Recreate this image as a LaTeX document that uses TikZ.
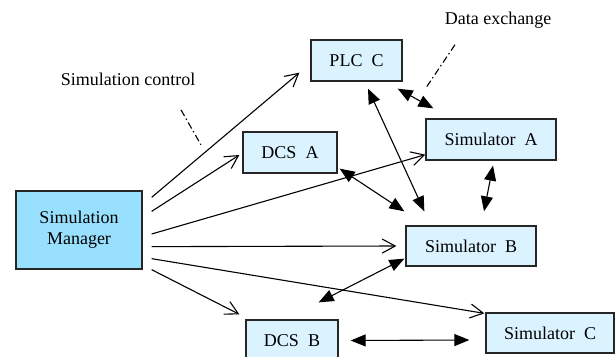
\documentclass[tikz,border=0pt]{standalone}
\usepackage{fontspec}
\setmainfont{Liberation Serif}
\newfontfamily\timesfont{Liberation Serif}
\usetikzlibrary{arrows.meta,positioning}
\definecolor{boxfill}{RGB}{219,242,255}
\definecolor{mgrfill}{RGB}{153,224,255}
\tikzset{
    every node/.append style={font=\timesfont\fontsize{18}{21}\selectfont},
    box/.style={draw=black!85, line width=1.3pt, fill=boxfill, inner sep=0pt, minimum height=41pt},
    mgr/.style={box, fill=mgrfill, minimum width=126pt, minimum height=78pt, align=center},
    ctrl/.style={line width=1.1pt, -{Straight Barb[length=13pt,width=14pt,line width=1.1pt]}},
    xchg/.style={line width=1.1pt, {Triangle[length=15pt,width=12pt]}-{Triangle[length=15pt,width=12pt]}},
    hint/.style={line width=1.1pt, dash pattern=on 7pt off 3pt on 1.5pt off 3pt}}

\begin{document}
\begin{tikzpicture}[x=1pt,y=-1pt]
    \useasboundingbox (0,0) rectangle (615,356);
    \clip (0,0) rectangle (615,356);
    \node[mgr] (sm) at (79,230) {Simulation\\Manager};
    \node[box, minimum width=94pt] (dcsa) at (290,152.5) {DCS\ \ A};
    \node[box, minimum width=91pt] (plcc) at (356.5,60.5) {PLC\ \ C};
    \node[box, minimum width=130pt] (sima) at (491,139.5) {Simulator\ \ A};
    \node[box, minimum width=130pt, minimum height=40pt] (simb) at (471,246) {Simulator\ \ B};
    \node[box, minimum width=128pt, minimum height=40pt] (simc) at (550,333) {Simulator\ \ C};
    \node[box, minimum width=92pt] (dcsb) at (292,340.5) {DCS\ \ B};
    \node (ctrllabel) at (128,79) {Simulation control};
    \node (datalabel) at (498,20) {Data exchange};

    % simulation control
    \path[ctrl]
    ([shift={(9,7)}]sm.north east) edge ([shift={(-11,-9)}]plcc.south west)
    ([shift={(9,21)}]sm.north east) edge ([shift={(-3,2.5)}]dcsa.west)
    ([shift={(9,4)}]sm.east) edge ([shift={(0,-6)}]sima.south west)
    ([shift={(9,-23)}]sm.south east) edge ([shift={(-9,0)}]simb.west)
    ([shift={(9,-11)}]sm.south east) edge ([shift={(-1,1)}]simc.north west)
    ([shift={(9,0)}]sm.south east) edge ([shift={(-6,-5)}]dcsb.north west);

    % data exchange
    \path[xchg]
    ([shift={(-5,7)}]plcc.south east) edge ([shift={(8,-10)}]sima.north west)
    ([shift={(11.5,7)}]plcc.south) edge ([shift={(19,-14)}]simb.north west)
    ([shift={(2,-5)}]dcsa.south east) edge ([shift={(-1,-14)}]simb.north west)
    ([shift={(2,5)}]sima.south) edge ([shift={(13,-14)}]simb.north)
    ([shift={(-1,-8)}]simb.south west) edge ([shift={(-20,-17)}]dcsb.north east)
    ([shift={(12,0)}]dcsb.east) edge ([shift={(-16,7)}]simc.west);

    \path[hint]
    ([shift={(53,21)}]ctrllabel.south) edge ([shift={(73,56)}]ctrllabel.south)
    ([shift={(-43,13)}]datalabel.south) edge ([shift={(-72,56)}]datalabel.south);
\end{tikzpicture}
\end{document}
